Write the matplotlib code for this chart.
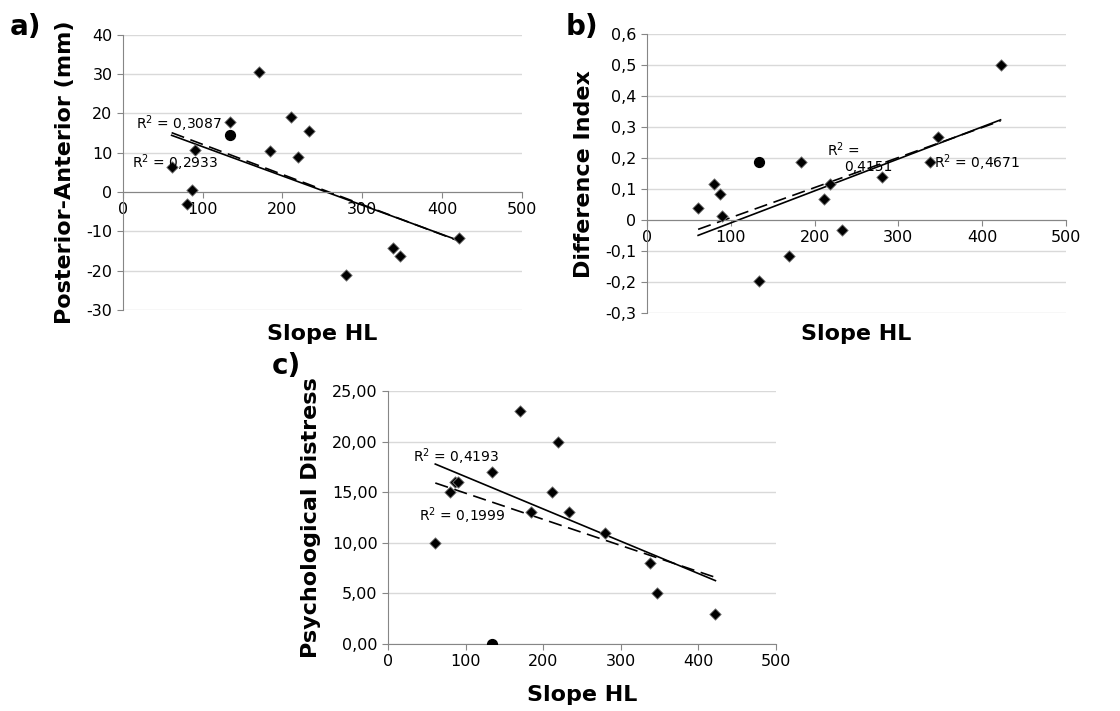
import numpy as np
import matplotlib
matplotlib.use("Agg")
import matplotlib.pyplot as plt
from matplotlib.ticker import FuncFormatter, MultipleLocator

# shared x values (Slope HL), diamonds
slope_hl = [61, 80, 87, 90, 134, 170, 184, 211, 219, 233, 280, 338, 347, 422]
# outlier case (circle marker)
slope_hl_circle = [134]

post_ant = [6.5, -3.1, 0.4, 10.7, 17.9, 30.6, 10.4, 19.1, 8.8, 15.6, -21.2, -14.3, -16.3, -11.8]
post_ant_circle = [14.6]

diff_index = [0.04, 0.118, 0.083, 0.013, -0.196, -0.117, 0.187, 0.068, 0.116, -0.032, 0.14, 0.187, 0.268, 0.502]
diff_index_circle = [0.187]

psych = [10, 15, 16, 16, 17, 23, 13, 15, 20, 13, 11, 8, 5, 3]
psych_circle = [0]

r2_labels = {
    "a": [("R$^2$ = 0,3087", 16, 17.4), ("R$^2$ = 0,2933", 11, 7.4)],
    "b": [("R$^2$ =", 215, 0.227), ("0,4151", 235, 0.173), ("R$^2$ = 0,4671", 343, 0.184)],
    "c": [("R$^2$ = 0,4193", 32, 18.5), ("R$^2$ = 0,1999", 40, 12.7)],
}

grid_col = "#d9d9d9"
spine_col = "#868686"


def yfmt(dec):
    def f(v, p):
        if abs(v) < 1e-9:
            return "0" if dec == 1 or dec == 0 else f"{0:.{dec}f}".replace(".", ",")
        return f"{v:.{dec}f}".replace(".", ",")
    return FuncFormatter(f)


def panel(ax, y, yc, ylim, ystep, ydec, ylabel, zero_axis, labels):
    x = np.array(slope_hl, float)
    y = np.array(y, float)
    ax.scatter(x, y, marker="D", s=34, c="black", edgecolors="#7f7f7f", linewidths=0.6, zorder=3)
    ax.scatter(slope_hl_circle, yc, marker="o", s=50, c="black", zorder=3)

    # trend lines: solid without the circle case, dashed with it
    xs = np.array([x.min(), x.max()])
    k, b = np.polyfit(x, y, 1)
    ax.plot(xs, k * xs + b, color="black", lw=1.2, zorder=2)
    xa = np.concatenate([x, slope_hl_circle])
    ya = np.concatenate([y, yc])
    k2, b2 = np.polyfit(xa, ya, 1)
    ax.plot(xs, k2 * xs + b2, color="black", lw=1.2, ls=(0, (8, 4)), zorder=2)

    ax.set_xlim(0, 500)
    ax.set_ylim(*ylim)
    ax.xaxis.set_major_locator(MultipleLocator(100))
    ax.yaxis.set_major_locator(MultipleLocator(ystep))
    ax.yaxis.set_major_formatter(yfmt(ydec))
    ax.xaxis.set_major_formatter(FuncFormatter(lambda v, p: f"{v:.0f}"))
    ax.grid(axis="y", color=grid_col, lw=1)
    ax.set_axisbelow(True)
    for s in ["top", "right"]:
        ax.spines[s].set_visible(False)
    ax.spines["left"].set_color(spine_col)
    ax.spines["bottom"].set_color(spine_col)
    if zero_axis:
        ax.spines["bottom"].set_position(("data", 0))
    ax.tick_params(axis="both", colors="black", labelsize=11.5, length=4, width=0.8)
    ax.tick_params(axis="both", color=spine_col)
    ax.set_ylabel(ylabel, fontsize=16, fontweight="bold", labelpad=8)
    for txt, tx, ty in labels:
        ax.text(tx, ty, txt, fontsize=10, va="center", ha="left", zorder=4)


fig = plt.figure(figsize=(11.2, 7.11), dpi=100)

ax_a = fig.add_axes([0.1098, 0.564, 0.356, 0.387])
panel(ax_a, post_ant, post_ant_circle, (-30, 40), 10, 0, "Posterior-Anterior (mm)", True, r2_labels["a"])
fig.text(0.288, 0.530, "Slope HL", ha="center", va="center", fontsize=16, fontweight="bold")
fig.text(0.009, 0.962, "a)", fontsize=20, fontweight="bold", va="center")

ax_b = fig.add_axes([0.5777, 0.5598, 0.374, 0.392])
panel(ax_b, diff_index, diff_index_circle, (-0.3, 0.6), 0.1, 1, "Difference Index", True, r2_labels["b"])
fig.text(0.7647, 0.530, "Slope HL", ha="center", va="center", fontsize=16, fontweight="bold")
fig.text(0.505, 0.962, "b)", fontsize=20, fontweight="bold", va="center")

ax_c = fig.add_axes([0.3464, 0.0942, 0.3464, 0.356])
panel(ax_c, psych, psych_circle, (0, 25), 5, 2, "Psychological Distress", False, r2_labels["c"])
fig.text(0.5196, 0.022, "Slope HL", ha="center", va="center", fontsize=16, fontweight="bold")
fig.text(0.243, 0.485, "c)", fontsize=20, fontweight="bold", va="center")

fig.savefig("out.png", dpi=100, facecolor="white")
